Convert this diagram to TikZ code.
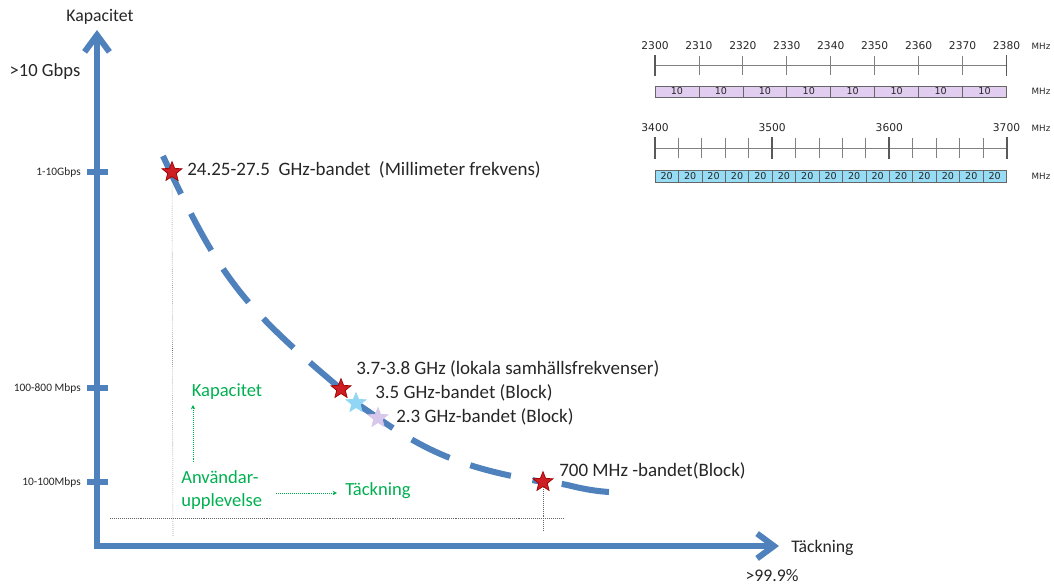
\documentclass[tikz,border=0pt]{standalone}
\usepackage{fontspec}
\setmainfont{Carlito}
\newfontfamily\bandfont{DejaVu Sans}
\usetikzlibrary{arrows.meta,shapes.geometric,backgrounds}

\definecolor{axisblue}{RGB}{79,129,189}
\definecolor{starred}{RGB}{205,30,35}
\definecolor{stardark}{RGB}{160,0,0}
\definecolor{starblue}{RGB}{145,215,245}
\definecolor{starlilac}{RGB}{215,200,235}
\definecolor{boxlilac}{RGB}{225,205,240}
\definecolor{boxblue}{RGB}{150,220,245}
\definecolor{textgreen}{RGB}{0,176,80}
\definecolor{txt}{RGB}{38,38,38}

\begin{document}
\begin{tikzpicture}[
 x=0.025cm, y=-0.025cm,
 axis/.style={line width=4.3pt, axisblue, {Straight Barb[length=0.42cm,width=0.62cm]}-{Straight Barb[length=0.42cm,width=0.62cm]}},
 tick/.style={line width=4.3pt, axisblue},
 curve/.style={line width=4.3pt, axisblue, dash pattern=on 1.05cm off 0.55cm},
 ticklab/.style={inner sep=0pt, anchor=east, text=txt, font=\fontsize{8.1}{9}\selectfont},
 axlab/.style={inner sep=0pt, text=txt, font=\fontsize{12.6}{14}\selectfont},
 bandlab/.style={inner sep=0pt, anchor=west, text=txt, font=\fontsize{13.5}{15}\selectfont},
 greenlab/.style={inner sep=0pt, text=textgreen, align=left, font=\fontsize{13.2}{16.5}\selectfont},
 greenarr/.style={->, >={Stealth[length=3pt,width=3pt]}, textgreen, densely dotted, thin},
 guide/.style={densely dotted, black!60, thin},
 starmark/.style={star, star points=5, star point ratio=2.3, minimum size=0.52cm, inner sep=0pt, line width=0.5pt},
 bandnum/.style={inner sep=0pt, text=txt, font=\bandfont\fontsize{7.6}{9}\selectfont},
 boxnum/.style={inner sep=0pt, text=txt, font=\bandfont\fontsize{6.8}{8}\selectfont},
 mhz/.style={inner sep=0pt, text=txt, font=\bandfont\fontsize{6.2}{8}\selectfont},
 bandtick/.style={gray, line width=0.6pt},
 bandend/.style={gray!70!black, line width=1.4pt},
 boxrow/.style={draw=gray!80!black, line width=0.5pt},
]
\useasboundingbox (0,0) rectangle (1054,586);

% axes
\coordinate (o) at (97,546);
\coordinate (ytop) at (97,30);
\coordinate (xend) at (779,546);
\draw[axis] (ytop) -- (o) -- (xend);
\node[axlab] (ylab) at (100,17) {Kapacitet};
\node[axlab, font=\fontsize{13.2}{15}\selectfont] (ymax) at (45,72) {>10 Gbps};
\node[axlab, anchor=west] (xlab) at (791,548) {Täckning};
\node[axlab] (xmax) at (772,576) {>99.9\%};

\foreach \y/\t [count=\k] in {172/1-10Gbps, 388/100-800 Mbps, 482/10-100Mbps} {
  \draw[tick] (87,\y) -- (108,\y);
  \node[ticklab] (t\k) at (81,\y) {\t};
}

% frequency bands
\node[starmark, fill=starred, draw=stardark] (mm) at (172,172) {};
\node[starmark, fill=starred, draw=stardark] (s37) at (341,389) {};
\node[starmark, fill=starblue, draw=starblue] (s35) at (356,403) {};
\node[starmark, fill=starlilac, draw=starlilac] (s23) at (378,418) {};
\node[starmark, fill=starred, draw=stardark] (s700) at (543,482) {};

\coordinate (c0) at (163,156);
\coordinate (c9) at (609,492);
\begin{scope}[on background layer]
\draw[curve] (c0) to[out=-65,in=140,looseness=1.15] (s37.center) -- (s35.center) -- (s23.center)
  to[out=-35,in=170] (s700.center);
\draw[line width=4.3pt, axisblue, shorten <=0.47cm] (s700.center) to[out=-6,in=176] (c9);
\end{scope}

\node[bandlab] (lmm) at (187,170) {24.25-27.5\ \ GHz-bandet\ \ (Millimeter frekvens)};
\node[bandlab] (l37) at (356,369) {3.7-3.8 GHz (lokala samhällsfrekvenser)};
\node[bandlab] (l35) at (375,393) {3.5 GHz-bandet (Block)};
\node[bandlab] (l23) at (396,417) {2.3 GHz-bandet (Block)};
\node[bandlab] (l700) at (559,471) {700 MHz -bandet(Block)};

% guides
\coordinate (g1) at (173,536);
\coordinate (g2) at (110,518);
\coordinate (g3) at (563,518);
\coordinate (g4) at (543,531);
\draw[guide] (mm) -- (g1);
\draw[guide] (g2) -- (g3);
\draw[guide] (s700) -- (g4);

% user experience
\node[greenlab] (gk) at (227,392) {Kapacitet};
\node[greenlab, anchor=west] (gu) at (181,490) {Användar-\\upplevelse};
\node[greenlab, anchor=west] (gt) at (345,491) {Täckning};
\draw[greenarr] (193,462) -- (193,405);
\draw[greenarr] (276,493) -- (337,493);

% 2300-2380 MHz
\draw[bandtick] (655,65) -- (1006.5,65);
\foreach \i in {0,...,8} {
  \pgfmathtruncatemacro\f{2300+10*\i}
  \draw[bandtick] (655+43.94*\i,56) -- (655+43.94*\i,75);
  \node[bandnum] (a\i) at (655+43.94*\i,46) {\f};
}
\draw[bandend] (655,55) -- (655,76);
\draw[bandend] (1006.5,55) -- (1006.5,76);
\draw[boxrow, fill=boxlilac] (655,86) rectangle (1006.5,97);
\foreach \i in {1,...,8} {
  \ifnum\i<8 \draw[boxrow] (655+43.94*\i,86) -- ++(0,11); \fi
  \node[boxnum] (b\i) at (655+43.94*\i-21.97,91.5) {10};
}
\node[mhz] (m1) at (1041,46) {MHz};
\node[mhz] (m2) at (1041,91) {MHz};

% 3400-3700 MHz
\draw[bandtick] (655,148) -- (1006.5,148);
\foreach \i in {0,...,15} {
  \draw[bandtick] (655+23.43*\i,138) -- (655+23.43*\i,158);
}
\foreach \i in {0,...,3} {
  \pgfmathtruncatemacro\f{3400+100*\i}
  \draw[bandend] (655+117.17*\i,137) -- (655+117.17*\i,159);
  \node[bandnum] (c\i) at (655+117.17*\i,128) {\f};
}
\draw[boxrow, fill=boxblue] (655,170) rectangle (1006.5,182);
\foreach \i in {1,...,15} {
  \ifnum\i<15 \draw[boxrow] (655+23.43*\i,170) -- ++(0,12); \fi
  \node[boxnum] (d\i) at (655+23.43*\i-11.72,176) {20};
}
\node[mhz] (m3) at (1041,128) {MHz};
\node[mhz] (m4) at (1041,176) {MHz};

\end{tikzpicture}
\end{document}
